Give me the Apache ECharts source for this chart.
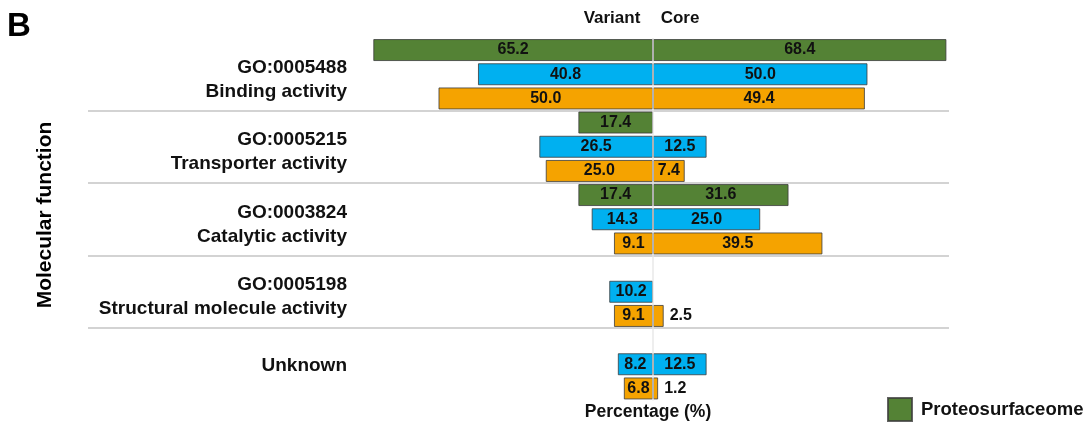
<!DOCTYPE html>
<html>
<head>
<meta charset="utf-8">
<script src="https://cdn.jsdelivr.net/npm/echarts@6/dist/echarts.min.js"></script>
<style>html,body{margin:0;padding:0;background:#fff;}#c{width:1084px;height:429px;}</style>
</head>
<body>
<div id="c"></div>
<script>
const categories = ['GO:0005488\nBinding activity', 'GO:0005215\nTransporter activity', 'GO:0003824\nCatalytic activity', 'GO:0005198\nStructural molecule activity', 'Unknown'];
const greenVariant  = [65.2, 17.4, 17.4, null, null];
const greenCore     = [68.4, null, 31.6, null, null];
const blueVariant   = [40.8, 26.5, 14.3, 10.2, 8.2];
const blueCore      = [50.0, 12.5, 25.0, null, 12.5];
const orangeVariant = [50.0, 25.0, 9.1, 9.1, 6.8];
const orangeCore    = [49.4, 7.4, 39.5, 2.5, 1.2];

const FONT = '"Liberation Sans", Arial, sans-serif';
const colors = { g: '#548235', b: '#00b0f0', o: '#f5a300' };

function mkData(arr, sign) {
  return arr.map(v => {
    if (v === null) return '-';
    const item = { value: sign * v };
    if (v < 4) item.label = { position: 'right', offset: [1, 0] };
    return item;
  });
}
function mkSeries(name, stack, color, arr, sign) {
  return {
    name: name, type: 'bar', stack: stack,
    barWidth: 22, barGap: '10%',
    itemStyle: { color: color, borderColor: 'rgba(60,60,60,0.8)', borderWidth: 1 },
    label: {
      show: true, position: 'inside', color: '#111',
      fontFamily: FONT, fontWeight: 'bold', fontSize: 16,
      formatter: p => Math.abs(p.value).toFixed(1)
    },
    data: mkData(arr, sign)
  };
}

const series = [
  mkSeries('Proteosurfaceome', 'g', colors.g, greenVariant, -1),
  mkSeries('Proteosurfaceome', 'g', colors.g, greenCore, 1),
  mkSeries('Blue', 'b', colors.b, blueVariant, -1),
  mkSeries('Blue', 'b', colors.b, blueCore, 1),
  mkSeries('Orange', 'o', colors.o, orangeVariant, -1),
  mkSeries('Orange', 'o', colors.o, orangeCore, 1)
];
series[5].markLine = {
  silent: true, symbol: 'none', z: 10,
  label: { show: false },
  lineStyle: { color: 'rgba(228,228,228,0.85)', width: 1.5, type: 'solid' },
  data: [{ xAxis: 0 }]
};

const chart = echarts.init(document.getElementById('c'), null, { renderer: 'canvas' });
chart.setOption({
  animation: false,
  backgroundColor: '#fff',
  grid: { left: 88, right: 135, top: 38, bottom: 28.5, containLabel: false },
  xAxis: {
    type: 'value', min: -131.7, max: 69.0,
    axisLine: { show: false }, axisTick: { show: false },
    axisLabel: { show: false }, splitLine: { show: false }
  },
  yAxis: {
    type: 'category', inverse: true, data: categories,
    offset: -267,
    axisLine: { show: false }, axisTick: { show: false },
    axisLabel: {
      margin: 8, color: '#111', fontFamily: FONT, fontWeight: 'bold',
      fontSize: 19, lineHeight: 24, align: 'right',
      formatter: v => {
        const lines = v.split('\n');
        const body = lines.map(l => '{t|' + l + '}').join('\n');
        return lines.length > 1 ? '{s| }\n' + body : '{s2| }\n' + body;
      },
      rich: {
        t: { fontFamily: FONT, fontWeight: 'bold', fontSize: 19, lineHeight: 24, color: '#111', align: 'right' },
        s: { fontSize: 1, lineHeight: 11 },
        s2: { fontSize: 1, lineHeight: 4 }
      }
    },
    splitLine: { show: true, showMinLine: false, showMaxLine: false,
      lineStyle: { color: '#c4c4c4', width: 1.5 } }
  },
  legend: {
    data: ['Proteosurfaceome'],
    left: 882, top: 392, icon: 'rect', itemWidth: 24, itemHeight: 23, itemGap: 10,
    textStyle: { color: '#111', fontFamily: FONT, fontWeight: 'bold', fontSize: 18.5, padding: [0, 0, 0, 4] }
  },
  graphic: [
    { type: 'text', left: 7, top: 10, style: { text: 'B', font: 'bold 33px ' + FONT, fill: '#000' } },
    { type: 'text', x: 612, y: 18, style: { text: 'Variant', font: 'bold 17px ' + FONT, fill: '#111', align: 'center', verticalAlign: 'middle' } },
    { type: 'text', x: 680, y: 18, style: { text: 'Core', font: 'bold 17px ' + FONT, fill: '#111', align: 'center', verticalAlign: 'middle' } },
    { type: 'text', x: 648, y: 412, style: { text: 'Percentage (%)', font: 'bold 17.5px ' + FONT, fill: '#111', align: 'center', verticalAlign: 'middle' } },
    { type: 'text', x: 45, y: 215, rotation: Math.PI / 2, style: { text: 'Molecular function', font: 'bold 21px ' + FONT, fill: '#000', align: 'center', verticalAlign: 'middle' } }
  ],
  series: series
});
</script>
</body>
</html>
